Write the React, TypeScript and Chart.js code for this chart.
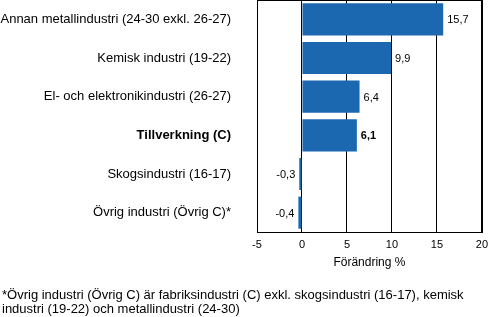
import React, { useEffect, useRef } from "react";
import { Chart, registerables } from "chart.js";

Chart.register(...registerables);

const categories = [
  "Annan metallindustri (24-30 exkl. 26-27)",
  "Kemisk industri (19-22)",
  "El- och elektronikindustri (26-27)",
  "Tillverkning (C)",
  "Skogsindustri (16-17)",
  "Övrig industri (Övrig C)*",
];
const values = [15.7, 9.9, 6.4, 6.1, -0.3, -0.4];
const boldIndex = 3;
const xMin = -5;
const xMax = 20;
const xStep = 5;
const axisTitle = "Förändring %";
const footnoteLines = [
  "*Övrig industri (Övrig C) är fabriksindustri (C) exkl. skogsindustri (16-17), kemisk",
  "industri (19-22) och metallindustri (24-30)",
];

const FONT = '"Liberation Sans", Arial, sans-serif';
const BAR_COLOR = "#1b68b0";

const fmt = (v: number) => v.toFixed(1).replace(".", ",");

const valueLabels = {
  id: "valueLabels",
  afterDatasetsDraw(chart: any) {
    const ctx = chart.ctx;
    const meta = chart.getDatasetMeta(0);
    ctx.save();
    ctx.fillStyle = "#000";
    ctx.textBaseline = "middle";
    meta.data.forEach((bar: any, i: number) => {
      const v = values[i];
      ctx.font = `${i === boldIndex ? "bold " : ""}11px ${FONT}`;
      if (v >= 0) {
        ctx.textAlign = "left";
        ctx.fillText(fmt(v), bar.x + 4, bar.y + 1);
      } else {
        ctx.textAlign = "right";
        ctx.fillText(fmt(v), bar.x - 4, bar.y + 1);
      }
    });
    ctx.restore();
  },
};

const frame = {
  id: "frame",
  afterDraw(chart: any) {
    const { left, right, top, bottom } = chart.chartArea;
    const ctx = chart.ctx;
    ctx.save();
    ctx.strokeStyle = "#000";
    ctx.lineWidth = 1;
    ctx.strokeRect(Math.round(left) + 0.5, Math.round(top) + 0.5, Math.round(right) - Math.round(left), Math.round(bottom) - Math.round(top));
    ctx.restore();
  },
};

export default function App() {
  const ref = useRef<HTMLCanvasElement | null>(null);
  useEffect(() => {
    if (!ref.current) return;
    const chart = new Chart(ref.current, {
      type: "bar",
      data: {
        labels: categories,
        datasets: [
          {
            data: values,
            backgroundColor: BAR_COLOR,
            borderWidth: 0,
            categoryPercentage: 1,
            barPercentage: 0.83,
          },
        ],
      },
      options: {
        indexAxis: "y",
        responsive: false,
        animation: false,
        devicePixelRatio: 1,
        layout: { padding: { top: 0, right: 9, bottom: 47, left: 0 } },
        plugins: {
          legend: { display: false },
          tooltip: { enabled: false },
        },
        scales: {
          x: {
            type: "linear",
            min: xMin,
            max: xMax,
            ticks: {
              stepSize: xStep,
              padding: 6,
              color: "#000",
              font: { family: FONT, size: 11 },
              callback: (v: any) => String(v),
            },
            grid: { color: "#000", lineWidth: 1, drawTicks: false },
            border: { color: "#000" },
            title: {
              display: true,
              text: axisTitle,
              color: "#000",
              font: { family: FONT, size: 12 },
              padding: { top: 0, bottom: 0 },
            },
            afterFit: (scale: any) => {
              scale.height = 38;
            },
          },
          y: {
            type: "category",
            ticks: {
              padding: 26,
              color: "#000",
              font: (c: any) => ({
                family: FONT,
                size: 13,
                weight: c.index === boldIndex ? "bold" : "normal",
              }),
            },
            grid: { display: false, drawTicks: false },
            border: { color: "#000" },
            afterFit: (scale: any) => {
              scale.width = 257;
              scale.paddingTop = 0;
              scale.paddingBottom = 0;
            },
          },
        },
      } as any,
      plugins: [valueLabels, frame],
    });
    return () => chart.destroy();
  }, []);

  return (
    <div style={{ position: "absolute", left: 0, top: 0, width: 494, height: 317, background: "#fff" }}>
      <canvas ref={ref} width={494} height={317} style={{ display: "block" }} />
      <div
        style={{
          position: "absolute",
          left: 2,
          top: 288,
          fontFamily: FONT,
          fontSize: 13,
          lineHeight: "14px",
          color: "#000",
          whiteSpace: "nowrap",
        }}
      >
        {footnoteLines.map((l, i) => (
          <div key={i}>{l}</div>
        ))}
      </div>
    </div>
  );
}
